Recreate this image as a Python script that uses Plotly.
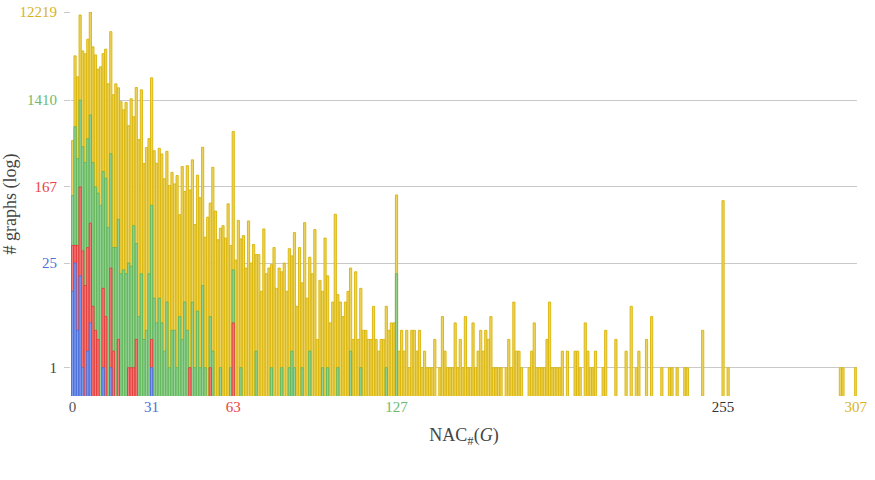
import plotly.graph_objects as go

# counts per NAC value (index = NAC_#(G)); zeros are empty bins
blue_counts = [12, 25, 4, 18, 1, 0, 2, 5, 0, 0, 0, 0, 1, 0, 0, 1,
               0, 0, 0, 0, 0, 0, 0, 0, 0, 0, 0, 0, 0, 0, 0, 1]

red_counts = [39, 39, 39, 167, 34, 14, 37, 68, 8, 4, 3, 0, 13, 6, 0, 22,
              2, 0, 3, 0, 0, 0, 1, 1, 1, 3, 0, 0, 0, 0, 0, 3,
              0, 0, 0, 0, 0, 0, 0, 0, 0, 0, 0, 0, 0, 0, 1, 0,
              0, 0, 0, 0, 0, 0, 1, 0, 0, 0, 0, 0, 0, 0, 0, 5]

green_counts = [135, 734, 335, 1410, 450, 304, 547, 980, 304, 167, 143, 106, 244, 207, 61, 379,
                37, 37, 75, 19, 21, 19, 25, 23, 64, 41, 6, 19, 3, 4, 19, 106,
                10, 5, 10, 5, 2, 9, 1, 4, 4, 1, 6, 3, 9, 4, 1, 9,
                1, 7, 1, 14, 1, 0, 6, 2, 0, 0, 1, 0, 0, 0, 1, 21,
                0, 0, 1, 0, 0, 0, 0, 0, 2, 0, 0, 0, 0, 0, 1, 0,
                0, 0, 1, 0, 0, 1, 2, 1, 0, 0, 1, 0, 0, 2, 0, 0,
                0, 0, 1, 0, 1, 0, 0, 0, 1, 0, 0, 0, 0, 2, 0, 0,
                0, 1, 0, 0, 0, 0, 0, 0, 0, 0, 0, 1, 0, 0, 0, 19]

yellow_counts = [
    522, 4170, 2495, 11350, 4710, 4400, 6270, 12219, 5200, 4270, 3010, 3185, 4400, 4910, 2100, 7550,
    1607, 2100, 1905, 1355, 1113, 1331, 753, 1457, 938, 1920, 535, 1815, 297, 440, 548, 2434,
    407, 299, 432, 376, 204, 401, 173, 239, 180, 221, 84, 276, 149, 282, 155, 325,
    66, 223, 128, 443, 48, 79, 112, 271, 92, 45, 60, 64, 47, 110, 39, 654,
    27, 73, 46, 50, 22, 72, 25, 40, 31, 31, 12, 59, 19, 22, 24, 37,
    13, 22, 20, 25, 12, 36, 30, 54, 8, 37, 15, 69, 10, 29, 19, 58,
    3, 16, 12, 47, 18, 5, 9, 85, 11, 9, 6, 9, 12, 22, 3, 20,
    3, 13, 4, 4, 3, 3, 8, 3, 2, 3, 3, 8, 4, 5, 5, 137,
    2, 4, 2, 4, 1, 4, 4, 2, 4, 1, 2, 1, 1, 1, 3, 0,
    1, 6, 2, 1, 1, 1, 5, 1, 3, 1, 6, 1, 1, 5, 1, 2,
    4, 2, 4, 3, 6, 1, 1, 1, 1, 0, 1, 3, 1, 9, 2, 2,
    1, 0, 0, 1, 2, 5, 1, 1, 1, 1, 3, 9, 1, 1, 1, 1,
    2, 0, 2, 0, 0, 2, 2, 1, 0, 5, 2, 1, 1, 2, 0, 0,
    1, 4, 0, 0, 0, 3, 0, 0, 0, 2, 0, 8, 0, 1, 2, 0,
    0, 3, 0, 6, 0, 0, 0, 1, 0, 0, 1, 1, 0, 1, 0, 0,
    1, 1, 0, 0, 0, 0, 0, 4, 0, 0, 0, 0, 0, 0, 0, 119,
    0, 1, 0, 0, 0, 0, 0, 0, 0, 0, 0, 0, 0, 0, 0, 0,
    0, 0, 0, 0, 0, 0, 0, 0, 0, 0, 0, 0, 0, 0, 0, 0,
    0, 0, 0, 0, 0, 0, 0, 0, 0, 0, 0, 0, 0, 1, 1, 0,
    0, 0, 0, 1]

y_tick_values = [1, 25, 167, 1410, 12219]
y_tick_colors = ["#444444", "#4a74d9", "#e84343", "#6cbb6c", "#d8b31e"]
x_tick_values = [0, 31, 63, 127, 255, 307]
x_tick_colors = ["#555555", "#4a74d9", "#e84343", "#6cbb6c", "#333333", "#d8b31e"]

series = [
    ("yellow", yellow_counts, "#ecd463", "#d9b406"),
    ("green", green_counts, "#96d196", "#5fb75f"),
    ("red", red_counts, "#f57e7e", "#e63b3b"),
    ("blue", blue_counts, "#819eee", "#4770dc"),
]

fig = go.Figure()
for name, counts, fill, edge in series:
    xs = [i for i, c in enumerate(counts) if c > 0]
    ys = [counts[i] + 1 for i in xs]  # log(count + 1) scale
    fig.add_trace(go.Bar(
        x=xs, y=ys, name=name, width=0.86,
        marker=dict(color=fill, line=dict(color=edge, width=0.9)),
        showlegend=False,
    ))

font_family = "Liberation Serif, DejaVu Serif, serif"

fig.update_layout(
    width=875, height=480,
    margin=dict(l=71, r=18, t=12, b=84, autoexpand=False),
    barmode="overlay",
    plot_bgcolor="white", paper_bgcolor="white",
    font=dict(family=font_family, size=15, color="#444444"),
    xaxis=dict(
        automargin=False,
        range=[-0.59, 307.5],
        tickmode="array",
        tickvals=x_tick_values,
        ticktext=[f'<span style="color:{c}">{v}</span>' for v, c in zip(x_tick_values, x_tick_colors)],
        showgrid=False, zeroline=False, showline=False, ticks="",
        tickfont=dict(size=15),
        title=dict(text="NAC<sub>#</sub>(<i>G</i>)", font=dict(size=18, color="#444444"), standoff=14),
    ),
    yaxis=dict(
        automargin=False,
        type="log",
        range=[0, 4.08707],
        tickmode="array",
        tickvals=[v + 1 for v in y_tick_values],
        ticktext=[f'<span style="color:{c}">{v}</span>' for v, c in zip(y_tick_values, y_tick_colors)],
        showgrid=True, gridcolor="#c9c9c9", gridwidth=1,
        ticks="outside", ticklen=6, tickcolor="#c9c9c9",
        ticklabelstandoff=4,
        zeroline=False, showline=False,
        tickfont=dict(size=15),
        title=dict(text="# graphs (log)", font=dict(size=18, color="#444444"), standoff=2),
    ),
)

fig.write_html("out.html")
